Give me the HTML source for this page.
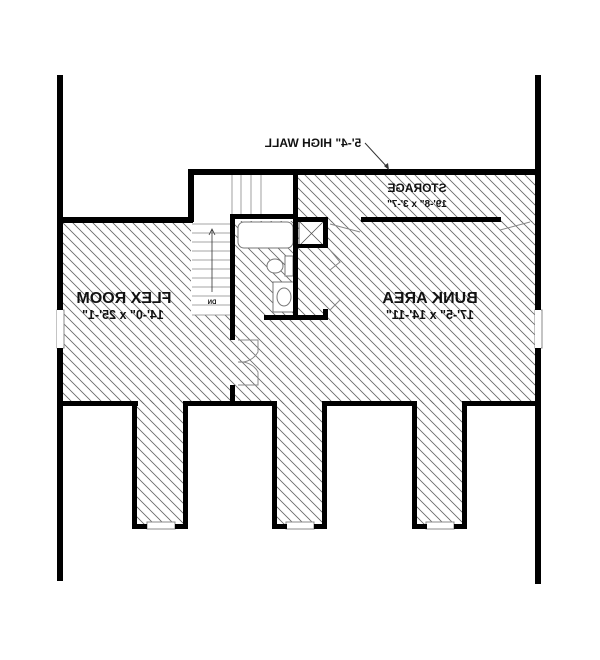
<!DOCTYPE html>
<html><head><style>html,body{margin:0;padding:0;background:#fff}svg{display:block}
text{font-family:"Liberation Sans",Arial,sans-serif;font-weight:bold;fill:#111}</style></head>
<body>
<svg width="600" height="660" viewBox="0 0 600 660" xmlns="http://www.w3.org/2000/svg">
<defs>
<pattern id="h" width="10" height="10" patternUnits="userSpaceOnUse">
<path d="M0,0 L10,10 M-1,9 L1,11 M9,-1 L11,1" stroke="#666" stroke-width="0.8"/>
</pattern>
</defs>
<g fill="url(#h)">
<rect x="62" y="221" width="474" height="183"/>
<rect x="296" y="174" width="240" height="48"/>
<rect x="135" y="400" width="50" height="126"/>
<rect x="274" y="400" width="50" height="126"/>
<rect x="414" y="400" width="50" height="126"/>
</g>
<rect x="191" y="174" width="105" height="44" fill="#fff"/>
<rect x="191" y="218" width="42" height="97" fill="#fff"/>
<g stroke="#888" stroke-width="0.8">
<line x1="232" y1="175" x2="232" y2="215"/><line x1="241" y1="175" x2="241" y2="215"/>
<line x1="251" y1="175" x2="251" y2="215"/><line x1="261" y1="175" x2="261" y2="215"/>
<line x1="192" y1="224" x2="232" y2="224"/><line x1="192" y1="233" x2="232" y2="233"/>
<line x1="192" y1="242" x2="232" y2="242"/><line x1="192" y1="251" x2="232" y2="251"/>
<line x1="192" y1="260" x2="232" y2="260"/><line x1="192" y1="269" x2="232" y2="269"/>
<line x1="192" y1="278" x2="232" y2="278"/><line x1="192" y1="287" x2="232" y2="287"/>
<line x1="192" y1="296" x2="232" y2="296"/><line x1="192" y1="305" x2="232" y2="305"/>
<line x1="192" y1="315" x2="232" y2="315"/>
<line x1="212" y1="230" x2="212" y2="292" stroke="#333"/>
</g>
<path d="M209,235 L212,229 L215,235" fill="none" stroke="#333" stroke-width="0.8"/>
<text x="0" y="0" font-size="6" transform="translate(212,304) scale(-1,1)" text-anchor="middle">DN</text>
<rect x="238" y="222" width="55" height="26" rx="6" fill="#fff" stroke="#777"/>
<ellipse cx="275" cy="266" rx="8" ry="7" fill="#fff" stroke="#777"/>
<rect x="285" y="256" width="8" height="20" fill="#fff" stroke="#777"/>
<rect x="273" y="282" width="22" height="30" fill="#fff" stroke="#777"/>
<ellipse cx="284" cy="297" rx="7" ry="9" fill="#fff" stroke="#777"/>
<rect x="299" y="221" width="25" height="25" fill="#fff" stroke="#555"/>
<path d="M299,221 L324,246 M324,221 L299,246" stroke="#555" stroke-width="0.8"/>
<g fill="none" stroke="#888" stroke-width="1">
<path d="M238,340 L258,340 L258,352 A20,20 0 0 1 238,362"/>
<path d="M238,385 L258,385 L258,372 A20,20 0 0 0 238,362"/>
<path d="M330,250 L340,262 L330,270 M330,290 L340,300 L330,310"/>
<path d="M330,224 L360,232 M500,230 L530,222"/>
</g>
<g fill="#fff" stroke="#888" stroke-width="1">
<rect x="57" y="310" width="7" height="38"/>
<rect x="535" y="310" width="7" height="38"/>
<rect x="147" y="522" width="28" height="7"/>
<rect x="286" y="522" width="28" height="7"/>
<rect x="426" y="522" width="28" height="7"/>
</g>
<g fill="#000">
<rect x="57" y="75" width="6" height="506"/>
<rect x="535" y="75" width="6" height="509"/>
<rect x="57" y="310" width="6" height="38" fill="#fff"/>
<rect x="535" y="310" width="6" height="38" fill="#fff"/>
<rect x="188" y="169" width="350" height="6"/>
<rect x="188" y="169" width="6" height="53"/>
<rect x="60" y="217" width="133" height="6"/>
<rect x="293" y="169" width="5" height="149"/>
<rect x="230" y="214" width="67" height="5"/>
<rect x="230" y="214" width="5" height="126"/>
<rect x="230" y="385" width="5" height="20"/>
<rect x="297" y="217" width="31" height="5"/>
<rect x="323" y="217" width="5" height="31"/>
<rect x="296" y="244" width="30" height="4"/>
<rect x="264" y="315" width="64" height="5"/>
<rect x="323" y="309" width="5" height="10"/>
<rect x="361" y="217" width="140" height="5"/>
<rect x="60" y="401" width="78" height="5"/>
<rect x="132" y="401" width="5" height="128"/>
<rect x="132" y="524" width="15" height="5"/>
<rect x="175" y="524" width="13" height="5"/>
<rect x="183" y="401" width="5" height="128"/>
<rect x="183" y="401" width="94" height="5"/>
<rect x="272" y="401" width="5" height="128"/>
<rect x="272" y="524" width="15" height="5"/>
<rect x="314" y="524" width="13" height="5"/>
<rect x="322" y="401" width="5" height="128"/>
<rect x="322" y="401" width="95" height="5"/>
<rect x="412" y="401" width="5" height="128"/>
<rect x="412" y="524" width="15" height="5"/>
<rect x="454" y="524" width="13" height="5"/>
<rect x="462" y="401" width="5" height="128"/>
<rect x="462" y="401" width="76" height="5"/>
</g>
<path d="M365,143 L388,168" stroke="#333" stroke-width="1"/>
<path d="M384,166 L389,170 L388,163 Z" fill="#333"/>
<g text-anchor="middle">
<text font-size="12" transform="translate(313,147) scale(-1,1)">5'-4" HIGH WALL</text>
<text font-size="12" transform="translate(417,192) scale(-1,1)">STORAGE</text>
<text font-size="10" transform="translate(417,207) scale(-1,1)">19'-8" x 3'-7"</text>
<text font-size="16" transform="translate(124,303) scale(-1,1)">FLEX ROOM</text>
<text font-size="12.5" transform="translate(123,319) scale(-1,1)">14'-0" x 25'-1"</text>
<text font-size="16" transform="translate(430,303) scale(-1,1)">BUNK AREA</text>
<text font-size="12.5" transform="translate(430,319) scale(-1,1)">17'-5" x 14'-11"</text>
</g>
</svg>
</body></html>
